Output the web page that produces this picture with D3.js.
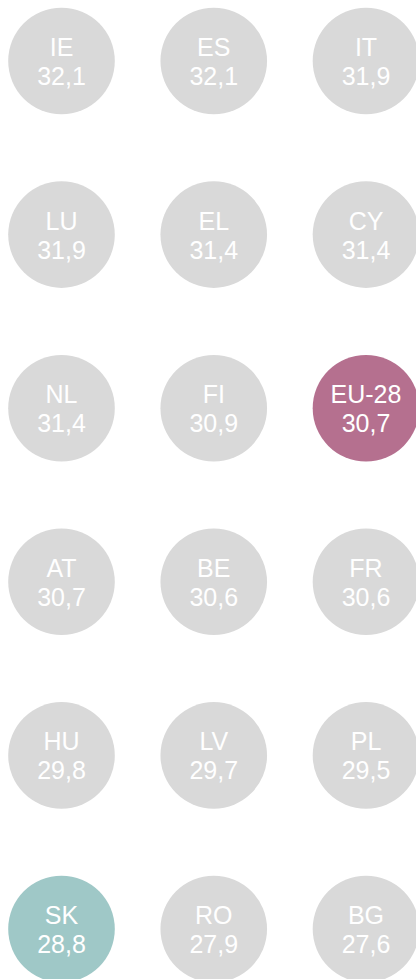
<!DOCTYPE html>
<html>
<head>
<meta charset="utf-8">
<script src="https://cdn.jsdelivr.net/npm/d3@7"></script>
<style>
  html, body { margin: 0; padding: 0; background: #ffffff; }
  svg { display: block; }
</style>
</head>
<body>
<div id="chart"></div>
<script>
const countries = ["IE","ES","IT","LU","EL","CY","NL","FI","EU-28","AT","BE","FR","HU","LV","PL","SK","RO","BG"];
const values = [32.1,32.1,31.9,31.9,31.4,31.4,31.4,30.9,30.7,30.7,30.6,30.6,29.8,29.7,29.5,28.8,27.9,27.6];
const highlightEU = ["EU-28"];
const highlightSK = ["SK"];

const W = 416, H = 979;
const nCols = 3, nRows = 6;
const svg = d3.select("#chart").append("svg").attr("width", W).attr("height", H);

const x = d3.scaleLinear().domain([0, nCols - 1]).range([61.5, 366]);
const y = d3.scaleLinear().domain([0, nRows - 1]).range([61, 929]);
const r = 53.3;

const fmt = d3.formatLocale({decimal: ",", thousands: ".", grouping: [3], currency: ["", "€"]}).format(".1f");
const color = d => highlightEU.includes(d.c) ? "#b5708f" : highlightSK.includes(d.c) ? "#9fc8c7" : "#d9d9d9";

const data = countries.map((c, i) => ({c, v: values[i], col: i % nCols, row: Math.floor(i / nCols)}));

const g = svg.selectAll("g.item").data(data).enter().append("g")
  .attr("class", "item")
  .attr("transform", d => `translate(${x(d.col)},${y(d.row)})`);

g.append("circle").attr("r", r).attr("fill", color);

g.append("text")
  .attr("text-anchor", "middle")
  .attr("y", -5)
  .attr("font-family", "Liberation Sans, Arial, sans-serif")
  .attr("font-size", 25)
  .attr("fill", "#ffffff")
  .text(d => d.c);

g.append("text")
  .attr("text-anchor", "middle")
  .attr("y", 24)
  .attr("font-family", "Liberation Sans, Arial, sans-serif")
  .attr("font-size", 25)
  .attr("fill", "#ffffff")
  .text(d => fmt(d.v));
</script>
</body>
</html>
